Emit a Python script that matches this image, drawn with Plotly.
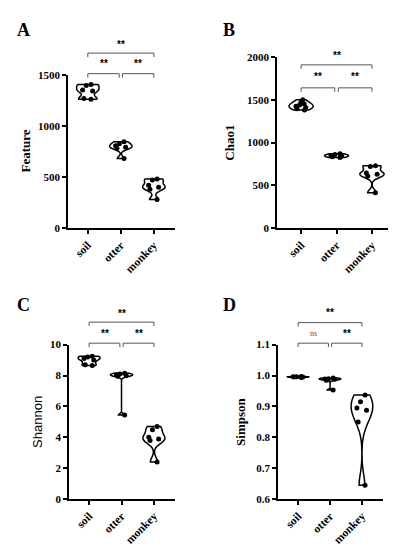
import plotly.graph_objects as go

W, H = 396, 550

groups = ["soil", "otter", "monkey"]

# Panel A: Feature
feature_soil = [1405, 1395, 1350, 1340, 1268, 1260]
feature_otter = [845, 825, 805, 790, 780, 680]
feature_monkey = [480, 470, 420, 400, 380, 280]

# Panel B: Chao1
chao1_soil = [1500, 1470, 1450, 1440, 1425, 1410, 1395, 1380]
chao1_otter = [870, 860, 850, 845, 835, 825]
chao1_monkey = [730, 720, 645, 630, 610, 415]

# Panel C: Shannon
shannon_soil = [9.25, 9.2, 9.1, 9.0, 8.7, 8.65]
shannon_otter = [8.15, 8.1, 8.05, 8.0, 7.95, 5.45]
shannon_monkey = [4.7, 4.5, 4.0, 3.9, 3.8, 2.4]

# Panel D: Simpson
simpson_soil = [0.997, 0.996, 0.996, 0.995, 0.995, 0.994]
simpson_otter = [0.992, 0.990, 0.989, 0.988, 0.985, 0.953]
simpson_monkey = [0.937, 0.915, 0.895, 0.888, 0.850, 0.645]

panels = [
    dict(name="A", title="Feature", data=[feature_soil, feature_otter, feature_monkey],
         bw=[28, 22, 28],
         yrange=[0, 1500], ticks=[0, 500, 1000, 1500], ticktext=["0", "500", "1000", "1500"],
         px=(60, 167), py=(62, 219), xr=[-0.6, 2.64], tfont=("Liberation Serif", "bold"),
         titlex=17, label=(15, 16), br=(40, 61), st=(31, 51), sig=["**", "**", "**"]),
    dict(name="B", title="Chao1", data=[chao1_soil, chao1_otter, chao1_monkey],
         bw=[25, None, 35],
         yrange=[0, 2000], ticks=[0, 500, 1000, 1500, 2000], ticktext=["0", "500", "1000", "1500", "2000"],
         px=(269, 387), py=(44, 219), xr=[-0.68, 2.65], tfont=("Liberation Serif", "bold"),
         titlex=222, label=(221, 16), br=(52, 75.5), st=(42, 64), sig=["**", "**", "**"]),
    dict(name="C", title="Shannon", data=[shannon_soil, shannon_otter, shannon_monkey],
         bw=[0.15, None, 0.3],
         yrange=[0, 10], ticks=[0, 2, 4, 6, 8, 10], ticktext=["0", "2", "4", "6", "8", "10"],
         px=(61, 167), py=(338, 496), xr=[-0.62, 2.65], tfont=("Liberation Sans", "normal"),
         titlex=30, label=(15, 298), br=(315, 336.5), st=(306.5, 326.5), sig=["**", "**", "**"]),
    dict(name="D", title="Simpson", data=[simpson_soil, simpson_otter, simpson_monkey],
         bw=[None, None, None],
         yrange=[0.6, 1.1], ticks=[0.6, 0.7, 0.8, 0.9, 1.0, 1.1],
         ticktext=["0.6", "0.7", "0.8", "0.9", "1.0", "1.1"],
         px=(270, 375), py=(338, 496), xr=[-0.63, 2.66], tfont=("Liberation Serif", "bold"),
         titlex=233, label=(221, 298), br=(315.5, 336.5), st=(305.5, 326.5), sig=["**", "ns", "**"]),
]

fig = go.Figure()
shapes = []
annotations = []

def py2paper(p):
    return 1 - p / H

for i, p in enumerate(panels):
    k = "" if i == 0 else str(i + 1)
    for g, vals, bw in zip(groups, p["data"], p["bw"]):
        kw = {} if bw is None else dict(bandwidth=bw)
        fig.add_trace(go.Violin(
            x=[g] * len(vals), y=vals, xaxis="x" + k, yaxis="y" + k,
            name=g, scalegroup=f"{p['name']}-{g}", offsetgroup=g, alignmentgroup=p["name"],
            points="all", pointpos=0, jitter=0.55, spanmode="hard",
            width=0.68, scalemode="width",
            fillcolor="white", line=dict(color="black", width=1.5),
            marker=dict(color="black", size=5),
            hoveron="points", showlegend=False, **kw,
        ))
    fig.update_layout(**{
        "xaxis" + k: dict(
            domain=[p["px"][0] / W, p["px"][1] / W], anchor="y" + k,
            type="category", categoryorder="array", categoryarray=groups,
            range=p["xr"], showline=True, linecolor="black", linewidth=1.5,
            ticks="outside", ticklen=4, tickwidth=1.5, tickcolor="black",
            tickangle=-45, showgrid=False, zeroline=False,
            tickfont=dict(family="Liberation Serif", size=11.5, color="black", weight="bold"),
        ),
        "yaxis" + k: dict(
            domain=[py2paper(p["py"][1]), py2paper(p["py"][0])], anchor="x" + k,
            range=p["yrange"], tickvals=p["ticks"], ticktext=p["ticktext"],
            showline=True, linecolor="black", linewidth=1.5,
            ticks="outside", ticklen=4, tickwidth=1.5, tickcolor="black",
            showgrid=False, zeroline=False,
            tickfont=dict(family="Liberation Serif", size=11, color="black", weight="bold"),
        ),
    })
    # axis title
    fam, wt = p["tfont"]
    annotations.append(dict(
        text=p["title"], x=p["titlex"] / W, y=py2paper((p["py"][0] + p["py"][1]) / 2),
        xref="paper", yref="paper", showarrow=False, textangle=-90,
        font=dict(family=fam, size=13, color="black", weight=wt),
        xanchor="center", yanchor="middle",
    ))
    # panel label
    annotations.append(dict(
        text=p["name"], x=p["label"][0] / W, y=py2paper(p["label"][1]),
        xref="paper", yref="paper", showarrow=False,
        font=dict(family="Liberation Serif", size=18, color="black", weight="bold"),
        xanchor="center", yanchor="middle",
    ))
    # significance brackets
    outer, inner = p["br"]
    s_outer, s_inner = p["st"]
    pairs = [((0, 0.95), inner, s_inner, p["sig"][1]),
             ((1.05, 2), inner, s_inner, p["sig"][2]),
             ((0, 2), outer, s_outer, p["sig"][0])]
    for (x0, x1), yb, ys_, sig in pairs:
        y_top = py2paper(yb)
        y_bot = py2paper(yb + 4)
        shapes.append(dict(
            type="path", xref="x" + k, yref="paper",
            path=f"M {x0},{y_bot} L {x0},{y_top} L {x1},{y_top} L {x1},{y_bot}",
            line=dict(color="#555555", width=1),
        ))
        if sig == "ns":
            f = dict(family="Liberation Serif", size=8, color="#555555")
        else:
            f = dict(family="Liberation Sans", size=10, color="black", weight="bold")
        annotations.append(dict(
            text=sig, x=(x0 + x1) / 2, y=py2paper(ys_), xref="x" + k, yref="paper",
            showarrow=False, font=f, xanchor="center", yanchor="middle",
        ))

fig.update_layout(
    width=W, height=H, margin=dict(l=0, r=0, t=0, b=0),
    paper_bgcolor="white", plot_bgcolor="white", violinmode="overlay",
    shapes=shapes, annotations=annotations, showlegend=False,
)

fig.write_html("out.html")
